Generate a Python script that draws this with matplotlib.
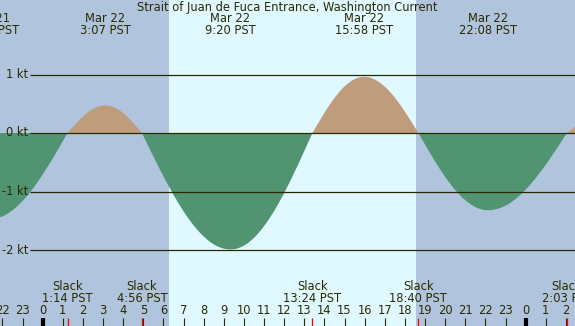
"""
Strait of Juan de Fuca Entrance current prediction, Mar 22 (PST).
Curve drawn from slack / max-current events with a quarter-cosine shape between them.
"""
import numpy as np
import matplotlib
matplotlib.use("Agg")
import matplotlib.pyplot as plt

# events, hours from Mar 22 00:00 PST
max_hours = [-2.617, 3.117, 9.333, 15.967, 22.133, 27.80]
max_kt = [-1.47, 0.47, -1.99, 0.96, -1.32, 0.30]
max_labels = [("Mar 21", "21:23 PST"), ("Mar 22", "3:07 PST"), ("Mar 22", "9:20 PST"),
              ("Mar 22", "15:58 PST"), ("Mar 22", "22:08 PST"), ("Mar 23", "3:48 PST")]
slack_hours = [1.233, 4.933, 13.400, 18.667, 26.050]
slack_labels = ["1:14 PST", "4:56 PST", "13:24 PST", "18:40 PST", "2:03 PST"]
sunrise, sunset = 6.28, 18.55
kt_levels = [1, 0, -1, -2]
hour_ticks = list(range(-2, 27))

TXT = "#2a2a00"
NIGHT, DAY = "#b0c4de", "#e0f8ff"
FLOOD, EBB = "#bf9d7c", "#519471"
W, H = 575, 326
x0, pph = 42.7, 20.125      # pixel of hour 0, pixels per hour
y0, ppk = 133.0, 58.5       # pixel of 0 kt, pixels per kt


def curve(t):
    ev = sorted([(h, v) for h, v in zip(max_hours, max_kt)] + [(h, 0.0) for h in slack_hours])
    out = np.zeros_like(t)
    for (a, va), (b, vb) in zip(ev[:-1], ev[1:]):
        m = (t >= a) & (t <= b)
        f = (t[m] - a) / (b - a)
        if va == 0.0:      # slack -> max
            out[m] = vb * np.sin(np.pi / 2 * f)
        else:              # max -> slack
            out[m] = va * np.cos(np.pi / 2 * f)
    return out


def main():
    fig = plt.figure(figsize=(W / 100, H / 100), dpi=100)
    ax = fig.add_axes([0, 0, 1, 1])
    xmin, xmax = -x0 / pph, (W - x0) / pph
    ax.set_xlim(xmin, xmax)
    ax.set_ylim(-(H - y0) / ppk, y0 / ppk)
    ax.axis("off")
    ay = lambda px: 1 - px / H   # pixel row -> axes fraction
    tr = ax.get_xaxis_transform()

    ax.axvspan(xmin, sunrise, color=NIGHT, lw=0, zorder=0)
    ax.axvspan(sunrise, sunset, color=DAY, lw=0, zorder=0)
    ax.axvspan(sunset, xmax, color=NIGHT, lw=0, zorder=0)

    t = np.linspace(xmin, xmax, 2000)
    v = curve(t)
    ax.fill_between(t, 0, v, where=v >= 0, color=FLOOD, lw=0, zorder=1, interpolate=True)
    ax.fill_between(t, 0, v, where=v <= 0, color=EBB, lw=0, zorder=1, interpolate=True)

    lx = (30 - x0) / pph
    ax.hlines(kt_levels, lx, xmax, color=TXT, lw=0.9, zorder=2)
    fs = 8.3
    for k in kt_levels:
        ax.text((28 - x0) / pph, k, f"{k} kt", ha="right", va="center", fontsize=fs, color=TXT)

    ax.text(0.5, ay(7), "Strait of Juan de Fuca Entrance, Washington Current", transform=ax.transAxes,
            ha="center", va="center", fontsize=fs, color=TXT)
    for h, (d, s) in zip(max_hours, max_labels):
        ax.text(h, ay(19), d, transform=tr, ha="center", va="center", fontsize=fs, color=TXT)
        ax.text(h, ay(31), s, transform=tr, ha="center", va="center", fontsize=fs, color=TXT)
    for h, s in zip(slack_hours, slack_labels):
        ax.text(h, ay(287), "Slack", transform=tr, ha="center", va="center", fontsize=fs, color=TXT)
        ax.text(h, ay(299), s, transform=tr, ha="center", va="center", fontsize=fs, color=TXT)

    for h in hour_ticks:
        ax.text(h, ay(311), str(h % 24), transform=tr, ha="center", va="center", fontsize=fs, color=TXT)
        mid = h % 24 == 0
        ax.vlines(h, 0, ay(318), transform=tr, color="black" if mid else TXT,
                  lw=3.0 if mid else 0.8, zorder=3)
    ax.vlines(slack_hours, 0, ay(318), transform=tr, color="red", lw=0.9, zorder=3)

    fig.savefig("out.png", dpi=100)


if __name__ == "__main__":
    main()
